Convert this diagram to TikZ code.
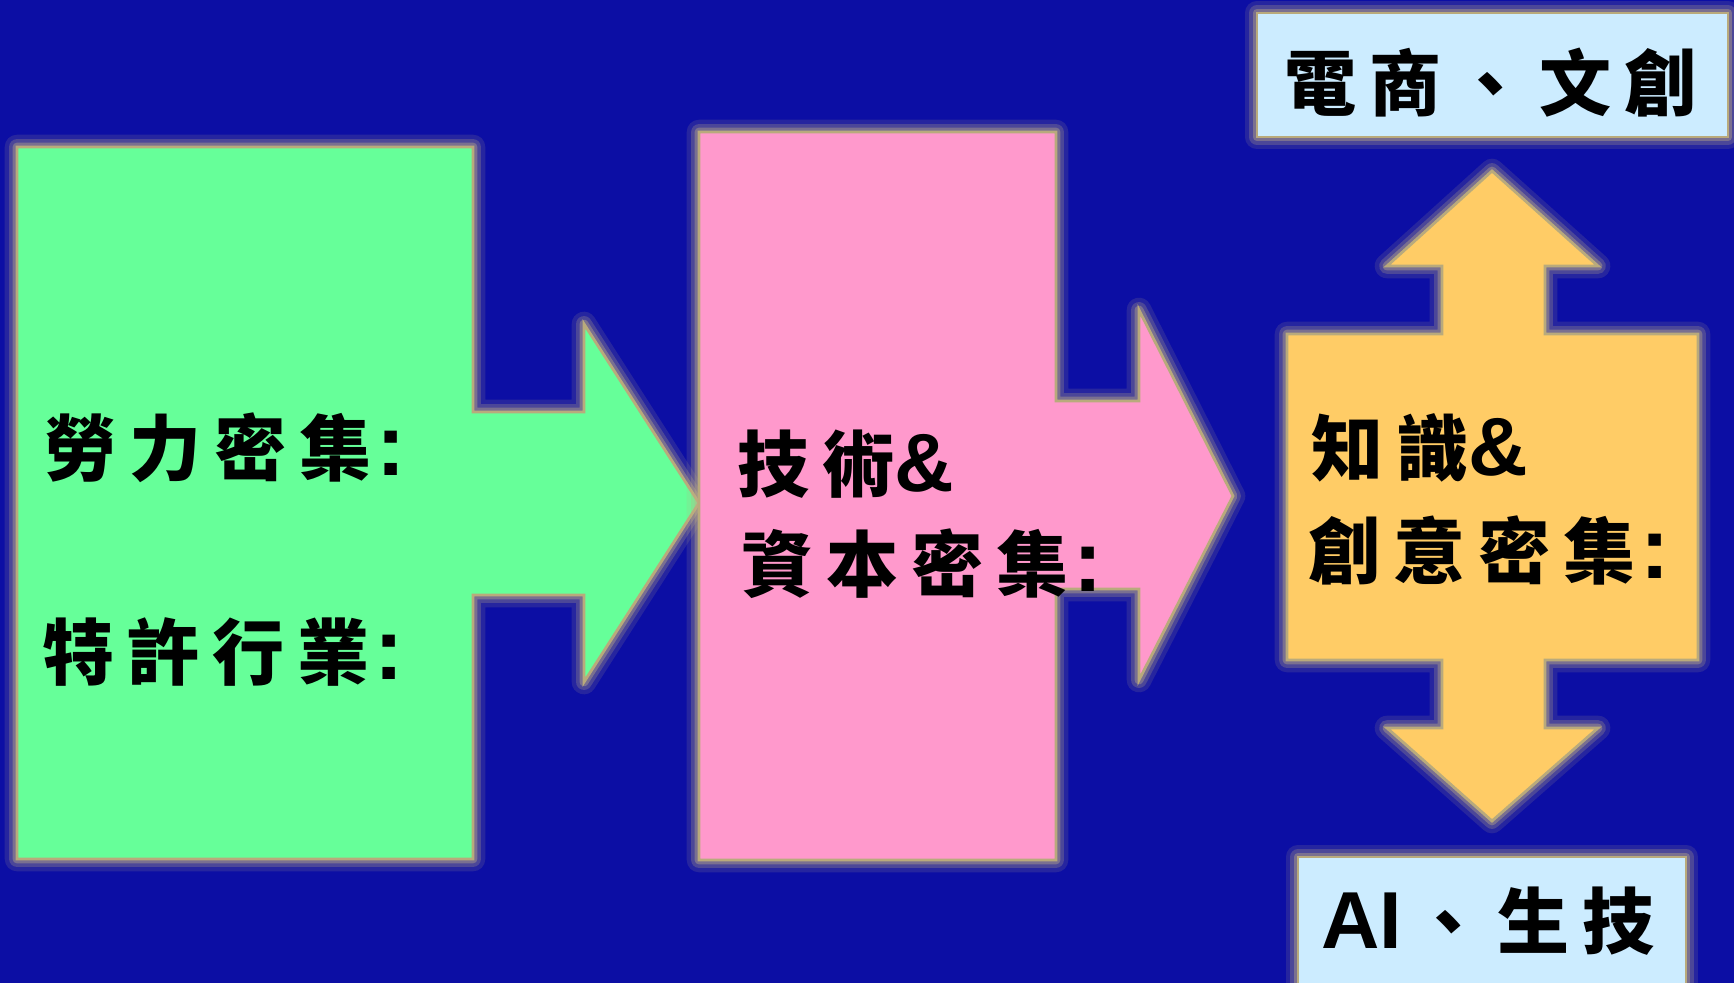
\documentclass[tikz,border=0pt]{standalone}
\usepackage{fontspec}
\newfontfamily\cjk{Noto Sans CJK TC}[LetterSpace=18]
\newfontfamily\latin{Liberation Sans}
\newcommand{\sqcol}{{\kern3pt\latin\bfseries\fontsize{50}{58}\selectfont :}}
\newcommand{\amp}{{\latin\bfseries\fontsize{47}{56}\selectfont \&}}
\definecolor{bgblue}{HTML}{0C0EA4}
\definecolor{edgetan}{HTML}{B9AA7C}
\definecolor{glowtan}{HTML}{C0AE84}
\definecolor{greenbox}{HTML}{66FF99}
\definecolor{pinkbox}{HTML}{FF99CC}
\definecolor{orangebox}{HTML}{FFCC66}
\definecolor{skybox}{HTML}{CCECFF}
\begin{document}
\begin{tikzpicture}[x=0.02cm,y=-0.02cm,
  glow/.style={fill=#1, draw=edgetan, line width=1.6pt,
    preaction={draw=glowtan, line width=14pt, opacity=0.15, line join=round},
    preaction={draw=glowtan, line width=9pt, opacity=0.25, line join=round},
    preaction={draw=glowtan, line width=5pt, opacity=0.4, line join=round}},
  lbl/.style={anchor=west, inner sep=0pt, text=black,
    font=\cjk\bfseries\fontsize{41}{49}\selectfont}]
\fill[bgblue] (0,0) rectangle (1734,983);
\useasboundingbox (0,0) rectangle (1734,983);
\path[glow=greenbox] (17,147) -- (473,147) -- (473,412) -- (584,412) -- (584,324) -- (699,503)
  -- (584,682) -- (584,595) -- (473,595) -- (473,859) -- (17,859) -- cycle;
\path[glow=pinkbox] (699,132) -- (1056,132) -- (1056,401) -- (1139,401) -- (1139,310) -- (1233,496)
  -- (1139,680) -- (1139,589) -- (1056,589) -- (1056,860) -- (699,860) -- cycle;
\path[glow=orangebox] (1287,334) -- (1442,334) -- (1442,266) -- (1387,266) -- (1492,171) -- (1598,266)
  -- (1545,266) -- (1545,334) -- (1698,334) -- (1698,660) -- (1545,660) -- (1545,728) -- (1598,728)
  -- (1492,821) -- (1387,728) -- (1442,728) -- (1442,660) -- (1287,660) -- cycle;
\path[glow=skybox] (1257,13) rectangle (1728,137);
\path[glow=skybox] (1298,857) rectangle (1686,1010);
\node[lbl] (labour) at (44,448) {勞力密集\sqcol};
\node[lbl] (license) at (42,652) {特許行業\sqcol};
\node[lbl] (tech) at (737,464) {技術\amp};
\node[lbl] (capital) at (741,564) {資本密集\sqcol};
\node[lbl] (know) at (1311,448) {知識\amp};
\node[lbl] (idea) at (1308,550) {創意密集\sqcol};
\node[lbl] (ecom) at (1284,83) {電商、文創};
\node[lbl] (aibio) at (1321,921) {{\latin\bfseries\fontsize{46}{54}\selectfont AI}\kern6pt、生技};
\end{tikzpicture}
\end{document}
